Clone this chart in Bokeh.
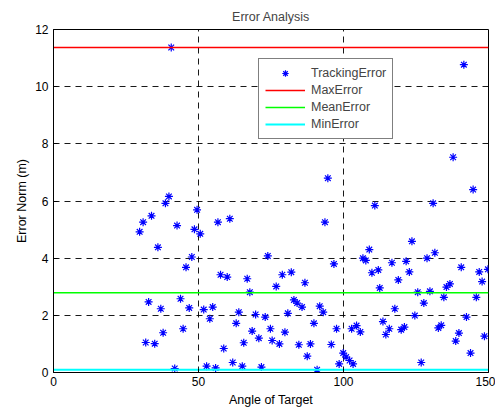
from bokeh.plotting import figure
from bokeh.models import Range1d, FixedTicker, Legend, LegendItem, Title
from bokeh.embed import file_html
from bokeh.resources import INLINE

angle = [40.6, 39.8, 38.6, 49.5, 33.8, 30.9, 42.6, 48.6, 29.7, 50.6, 36.0, 47.7, 45.7, 43.8, 32.8,
         46.8, 37.0, 44.7, 37.8, 31.8, 34.9, 41.8, 56.7, 60.8, 93.6, 73.9, 96.7, 57.6, 59.9, 66.8,
         78.9, 82.0, 76.8, 86.7, 67.7, 82.9, 84.0, 85.7, 91.8, 93.0, 51.8, 54.9, 53.9, 63.9, 69.7,
         73.0, 80.8, 63.0, 89.8, 97.6, 74.8, 68.5, 79.8, 70.8, 75.4, 77.9, 65.6, 84.6, 88.6, 95.8,
         58.7, 87.5, 61.8, 52.8, 55.9, 65.1, 71.7, 90.9, 98.5, 94.6, 141.5, 137.8, 144.7, 110.8, 130.9,
         123.6, 108.9, 131.5, 106.7, 107.7, 128.8, 116.7, 121.6, 140.6, 112.0, 109.8, 122.7, 146.8, 149.8,
         118.9, 147.8, 136.7, 135.5, 112.5, 125.6, 129.8, 134.6, 145.8, 127.7, 117.7, 124.6, 142.4, 113.6,
         104.5, 102.8, 105.8, 115.8, 119.9, 121.0, 132.7, 133.7, 114.6, 139.8, 148.6, 138.7, 143.8, 99.9,
         100.9, 102.1, 103.3, 126.8]
error = [11.37, 6.16, 5.92, 5.69, 5.48, 5.26, 5.14, 5.01, 4.92, 4.85, 4.38, 4.04, 3.68, 2.58, 2.47,
         2.26, 2.23, 1.53, 1.39, 1.05, 1.01, 0.14, 5.26, 5.38, 5.26, 4.08, 3.80, 3.42, 3.34, 3.28,
         3.42, 3.51, 3.01, 3.14, 2.81, 2.54, 2.43, 2.29, 2.32, 2.11, 2.20, 2.29, 1.88, 2.11, 2.03,
         1.94, 2.07, 1.72, 1.72, 1.53, 1.53, 1.45, 1.41, 1.20, 1.12, 1.00, 1.04, 0.97, 1.00, 0.98,
         0.84, 0.57, 0.35, 0.22, 0.16, 0.22, 0.19, 0.10, 0.30, 6.80, 10.77, 7.53, 6.40, 5.84, 5.92,
         4.59, 4.30, 4.19, 4.00, 3.92, 4.00, 3.84, 3.89, 3.68, 3.59, 3.49, 3.52, 3.52, 3.61,
         3.24, 3.18, 3.10, 2.99, 2.96, 2.81, 2.84, 2.63, 2.63, 2.43, 2.23, 1.99, 1.94, 1.78,
         1.64, 1.53, 1.42, 1.53, 1.50, 1.59, 1.56, 1.65, 1.33, 1.38, 1.27, 1.10, 0.68, 0.68,
         0.54, 0.42, 0.30, 0.35]

max_error = 11.37
mean_error = 2.79
min_error = 0.10
x_span = [0, 150]
x_ticks = [0, 50, 100, 150]
y_ticks = [0, 2, 4, 6, 8, 10, 12]

FONT = "Liberation Sans"
TXT = "12.5px"

p = figure(frame_width=435, frame_height=343, min_border_left=53, min_border_right=7,
           min_border_top=29, min_border_bottom=36,
           x_range=Range1d(0, 150), y_range=Range1d(0, 12),
           output_backend="svg", toolbar_location=None)
p.title = Title(text="Error Analysis", align="center", text_font=FONT, text_font_size=TXT,
                text_font_style="normal", standoff=12, offset=0)
p.background_fill_color = "white"
p.border_fill_color = "white"
p.outline_line_color = "black"
p.outline_line_width = 1
p.outline_line_alpha = 1

for ax in (p.xaxis[0], p.yaxis[0]):
    ax.major_tick_in = 4
    ax.major_tick_out = 0
    ax.minor_tick_in = 0
    ax.minor_tick_out = 0
    ax.axis_line_color = "black"
    ax.major_tick_line_color = "black"
    ax.major_label_text_font = FONT
    ax.major_label_text_font_size = "12px"
    ax.major_label_text_color = "black"
    ax.axis_label_text_font = FONT
    ax.axis_label_text_font_size = TXT
    ax.axis_label_text_font_style = "normal"
    ax.axis_label_text_color = "black"

p.xaxis.ticker = FixedTicker(ticks=x_ticks)
p.yaxis.ticker = FixedTicker(ticks=y_ticks)
p.xaxis.axis_label = "Angle of Target"
p.yaxis.axis_label = "Error Norm (m)"
p.xaxis.major_label_standoff = 4
p.xaxis.axis_label_standoff = 4
p.yaxis.major_label_standoff = 5
p.yaxis.axis_label_standoff = 3

p.grid.grid_line_color = "black"
p.grid.grid_line_dash = "6 5"
p.grid.grid_line_width = 1
p.grid.grid_line_alpha = 0.9

r_pts = p.scatter(angle, error, marker="asterisk", size=8, line_color="blue", line_width=1.2)
r_max = p.line(x_span, [max_error, max_error], line_color="#ff0000", line_width=1.4)
r_mean = p.line(x_span, [mean_error, mean_error], line_color="#00ff00", line_width=1.5)
r_min = p.line(x_span, [min_error, min_error], line_color="#00ffff", line_width=2)

legend = Legend(items=[
    LegendItem(label="TrackingError", renderers=[r_pts]),
    LegendItem(label="MaxError", renderers=[r_max]),
    LegendItem(label="MeanError", renderers=[r_mean]),
    LegendItem(label="MinError", renderers=[r_min]),
], location=(205, 233))
legend.label_text_font = FONT
legend.label_text_font_size = TXT
legend.glyph_width = 40
legend.glyph_height = 16
legend.label_height = 16
legend.spacing = 1
legend.padding = 6
legend.margin = 0
legend.label_standoff = 6
legend.border_line_color = "black"
legend.border_line_width = 1
legend.background_fill_alpha = 1
p.add_layout(legend)

open("out.html", "w").write(file_html(p, INLINE))
